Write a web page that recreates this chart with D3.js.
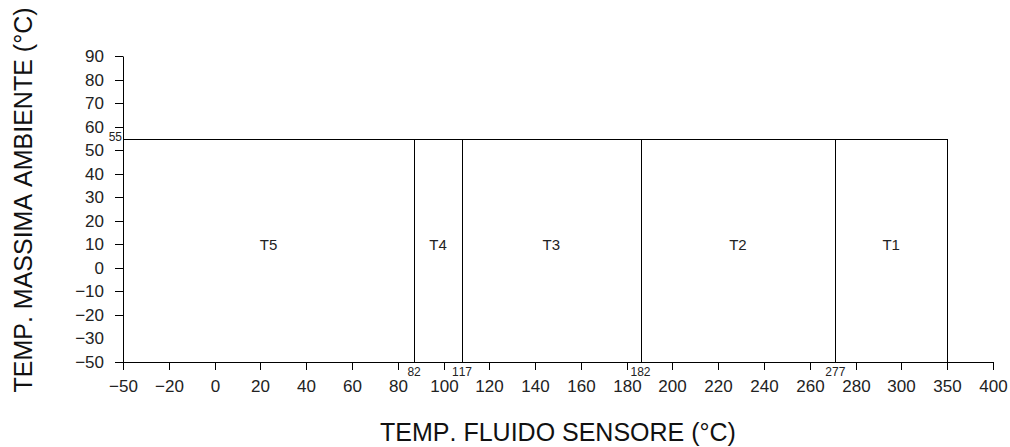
<!DOCTYPE html>
<html>
<head>
<meta charset="utf-8">
<script src="https://cdn.jsdelivr.net/npm/d3@7"></script>
<style>
  body { margin: 0; background: #fff; }
  svg { display: block; }
  text { font-kerning: none; }
  .axis text { font-family: "Liberation Sans", Arial, sans-serif; font-size: 17px; fill: #222; }
  .axis line, .axis path { stroke: #000; }
</style>
</head>
<body>
<div id="chart"></div>
<script>
// tick labels as printed on the drawing (axes are spaced per label, not linear)
var xTicks = [-50, -20, 0, 20, 40, 60, 80, 100, 120, 140, 160, 180, 200, 220, 240, 260, 280, 300, 350, 400];
var yTicks = [-50, -30, -20, -10, 0, 10, 20, 30, 40, 50, 60, 70, 80, 90];

// temperature classes, left to right
var zones = ["T5", "T4", "T3", "T2", "T1"];
// zone borders as drawn against the x axis
var zoneEdges = [-50, 87, 108, 186, 271, 350];
// values printed at the borders
var edgeLabels = [82, 117, 182, 277];
// max ambient temperature
var maxAmbient = 55;
var minAmbient = -50;

var w = 1010;
var h = 447;
var padLeft = 123, padRight = 993, padTop = 56, padBottom = 362;

var svg = d3.select("#chart")
    .append("svg")
    .attr("width", w)
    .attr("height", h);

// piecewise scales: each printed tick gets the same spacing
var xStep = (padRight - padLeft) / (xTicks.length - 1);
var xScale = d3.scaleLinear()
    .domain(xTicks)
    .range(xTicks.map(function (d, i) { return Math.round(padLeft + i * xStep); }));

var yStep = (padBottom - padTop) / (yTicks.length - 1);
var yScale = d3.scaleLinear()
    .domain(yTicks)
    .range(yTicks.map(function (d, i) { return Math.round(padBottom - i * yStep); }));

var fmt = d3.format("d");

//X axis
svg.append("g")
    .attr("class", "axis")
    .attr("transform", "translate(0," + yScale(minAmbient) + ")")
    .call(d3.axisBottom(xScale)
        .tickValues(xTicks)
        .tickFormat(fmt)
        .tickSize(8)
        .tickSizeOuter(0)
        .tickPadding(10));

//Y axis
var yAxisG = svg.append("g")
    .attr("class", "axis")
    .attr("transform", "translate(" + xScale(xTicks[0]) + ",0)")
    .call(d3.axisLeft(yScale)
        .tickValues(yTicks)
        .tickFormat(fmt)
        .tickSize(8)
        .tickSizeOuter(0)
        .tickPadding(11));

// no tick mark at -30 on the drawing
yAxisG.selectAll(".tick")
    .filter(function (d) { return d === -30; })
    .select("line")
    .remove();

// zone boxes
var zoneData = zones.map(function (name, i) {
    return { name: name, x0: zoneEdges[i], x1: zoneEdges[i + 1] };
});

svg.selectAll("rect.zone")
    .data(zoneData)
    .enter()
    .append("rect")
    .attr("class", "zone")
    .attr("x", function (d) { return Math.round(xScale(d.x0)) + 0.5; })
    .attr("y", Math.round(yScale(maxAmbient)) + 0.5)
    .attr("width", function (d) { return Math.round(xScale(d.x1)) - Math.round(xScale(d.x0)); })
    .attr("height", yScale(minAmbient) - Math.round(yScale(maxAmbient)))
    .attr("fill", "none")
    .attr("stroke", "#000")
    .attr("stroke-width", 1);

svg.selectAll("text.zone")
    .data(zoneData)
    .enter()
    .append("text")
    .attr("class", "zone")
    .attr("x", function (d) { return (xScale(d.x0) + xScale(d.x1)) / 2; })
    .attr("y", yScale(10) + 6)
    .attr("text-anchor", "middle")
    .attr("font-family", "Liberation Sans, Arial, sans-serif")
    .attr("font-size", "15px")
    .attr("fill", "#222")
    .text(function (d) { return d.name; });

// border values under the axis
svg.selectAll("text.edge")
    .data(edgeLabels)
    .enter()
    .append("text")
    .attr("class", "edge")
    .attr("x", function (d, i) { return xScale(zoneEdges[i + 1]); })
    .attr("y", yScale(minAmbient) + 14)
    .attr("text-anchor", "middle")
    .attr("font-family", "Liberation Sans, Arial, sans-serif")
    .attr("font-size", "12px")
    .attr("fill", "#222")
    .text(function (d) { return d; });

// 55 marker
svg.append("text")
    .attr("x", xScale(xTicks[0]) - 1)
    .attr("y", yScale(maxAmbient) + 2)
    .attr("text-anchor", "end")
    .attr("font-family", "Liberation Sans, Arial, sans-serif")
    .attr("font-size", "12px")
    .attr("fill", "#222")
    .text(maxAmbient);

// axis titles
svg.append("text")
    .attr("x", (padLeft + padRight) / 2)
    .attr("y", 441)
    .attr("text-anchor", "middle")
    .attr("font-family", "Liberation Sans, Arial, sans-serif")
    .attr("font-size", "25px")
    .attr("fill", "#111")
    .text("TEMP. FLUIDO SENSORE (°C)");

svg.append("text")
    .attr("transform", "translate(32,200) rotate(-90)")
    .attr("text-anchor", "middle")
    .attr("font-family", "Liberation Sans, Arial, sans-serif")
    .attr("font-size", "25px")
    .attr("fill", "#111")
    .text("TEMP. MASSIMA AMBIENTE (°C)");
</script>
</body>
</html>
